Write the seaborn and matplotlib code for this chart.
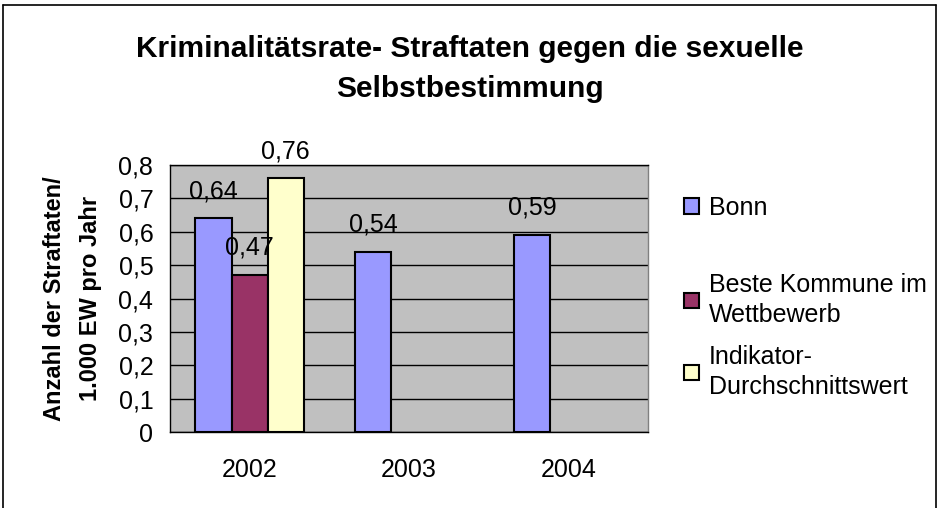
import matplotlib
matplotlib.use("Agg")
import matplotlib.pyplot as plt
import seaborn as sns
import pandas as pd
import numpy as np
from matplotlib.patches import Patch
from matplotlib.lines import Line2D

years = ["2002", "2003", "2004"]
series = ["Bonn", "Beste Kommune im\nWettbewerb", "Indikator-\nDurchschnittswert"]
bonn = [0.64, 0.54, 0.59]
beste = [0.47, np.nan, np.nan]
indikator = [0.76, np.nan, np.nan]
colors = ["#9999FF", "#993366", "#FFFFCC"]
yticks = [0, 0.1, 0.2, 0.3, 0.4, 0.5, 0.6, 0.7, 0.8]

rows = []
for s, vals in zip(series, [bonn, beste, indikator]):
    for y, v in zip(years, vals):
        rows.append({"Jahr": y, "Serie": s, "Wert": v})
df = pd.DataFrame(rows)

sns.set_style("white")
plt.rcParams["font.family"] = ["Liberation Sans", "DejaVu Sans"]
plt.rcParams["text.color"] = "black"
plt.rcParams["axes.labelcolor"] = "black"
plt.rcParams["xtick.color"] = "black"
plt.rcParams["ytick.color"] = "black"

FS = 18

fig = plt.figure(figsize=(9.39, 5.08), dpi=100)
ax = fig.add_axes([170/939, 1-432/508, (648-170)/939, (432-165)/508])
ax.set_facecolor("#C0C0C0")

sns.barplot(data=df, x="Jahr", y="Wert", hue="Serie", hue_order=series,
            order=years, palette=colors, saturation=1, width=0.68, edgecolor="black",
            linewidth=1.5, ax=ax, legend=False, zorder=3)

ax.set_ylim(0, 0.8)
ax.set_xlim(-0.5, 2.5)
ax.set_yticks(yticks)
ax.set_yticklabels([("%.1f" % t).replace(".", ",") if t else "0" for t in yticks])
ax.yaxis.grid(True, color="black", linewidth=1, zorder=1)
ax.set_axisbelow(True)
ax.set_xlabel("")
ax.set_ylabel("Anzahl der Straftaten/\n1.000 EW pro Jahr", fontsize=17,
              fontweight="bold", labelpad=12, linespacing=1.7)

ax.set_xticks([0, 1, 2])
ax.set_xticklabels(years)
ax.set_xticks([-0.5, 0.5, 1.5, 2.5], minor=True)
ax.tick_params(axis="x", which="major", length=0, pad=19, labelsize=FS)
ax.tick_params(axis="x", which="minor", length=7, width=1, direction="out", color="black")
ax.tick_params(axis="y", length=7, width=1, direction="out", color="black", labelsize=FS, pad=5)

for sp in ["left", "bottom", "top"]:
    ax.spines[sp].set_color("black")
    ax.spines[sp].set_linewidth(1)
ax.spines["right"].set_color("#808080")
ax.spines["right"].set_linewidth(1)

for cont in ax.containers:
    labels = [("%.2f" % v).replace(".", ",") if not np.isnan(v) else "" for v in cont.datavalues]
    ax.bar_label(cont, labels=labels, padding=11, fontsize=FS)

fig.text(0.5, 1-69/508, "Kriminalitätsrate- Straftaten gegen die sexuelle\nSelbstbestimmung",
         ha="center", va="center", fontsize=21.5, fontweight="bold", linespacing=1.55)

# legend entries (Excel-style spacing)
legend_tops = [196, 273, 345]
for c, lab, top in zip(colors, series, legend_tops):
    h = Patch(facecolor=c, edgecolor="black", linewidth=1.5)
    leg = fig.legend([h], [lab], loc="upper left", bbox_to_anchor=(684/939, 1-top/508),
                     frameon=False, fontsize=FS, handlelength=0.6, handleheight=0.6,
                     handletextpad=0.4, borderaxespad=0, borderpad=0)
    for t in leg.get_texts():
        t.set_linespacing(1.3)

# figure frame (bottom edge outside of the picture)
fig.add_artist(Line2D([3/939, 3/939], [0, 1-5/508], transform=fig.transFigure, color="black", lw=1.2))
fig.add_artist(Line2D([3/939, 936/939], [1-5/508, 1-5/508], transform=fig.transFigure, color="black", lw=1.2))
fig.add_artist(Line2D([936/939, 936/939], [0, 1-5/508], transform=fig.transFigure, color="black", lw=1.2))

fig.savefig("out.png", dpi=100)
